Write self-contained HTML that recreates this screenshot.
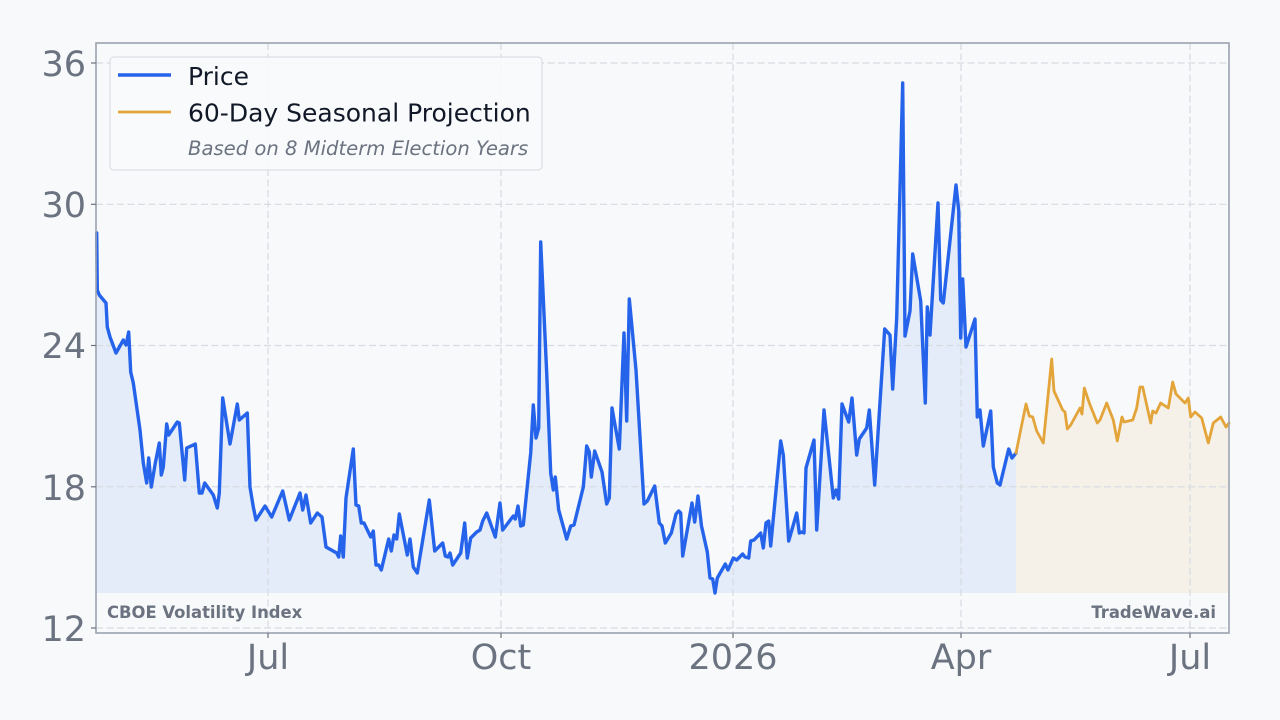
<!DOCTYPE html>
<html><head><meta charset="utf-8"><style>
html,body{margin:0;padding:0;background:#f8f9fb;}
svg{display:block;}
text{font-family:"DejaVu Sans","Liberation Sans",sans-serif;}
</style></head><body>
<svg width="1280" height="720" viewBox="0 0 1280 720" xmlns="http://www.w3.org/2000/svg">
<rect x="0" y="0" width="1280" height="720" fill="#f8f9fb"/>
<rect x="96" y="43" width="1133" height="590" fill="#f8f9fb"/>
<!-- fills -->
<polygon fill="#e3ecf8" points="96,593 96.7,233 97.3,290 99.3,295 106,303 107.3,327 110,337 116,353 123.3,340 126,345 128.7,332 130.7,372 133.3,383 140,430 143.3,463 146.7,483 148.7,458 151.3,487 155.3,463 159.3,443 161.3,475 163.3,467 166.7,424 168.7,435 177.3,422 179.3,423 184.7,480 186.7,448 195.3,444 199.3,493 202,493 204.7,483 213.3,495 217.3,508 219.3,493 222.7,398 230,444 237.3,404 239.3,420 247.3,413 250,487 253.3,507 256,520 265,506 271.7,517 282.7,491 289.3,520 300,493 302.7,510 306,495 310.7,523 317.3,513 322,517 326,547 336.7,553 338.7,557 340.7,536 343.3,557 346,498 353.3,449 356,505 358.7,506 361.3,523 364,523 370.7,537 373.3,531 376,565 378.7,565 381.3,570 388.7,539 391.3,551 394,535 396.7,539 399.3,514 407.3,555 410,539 413.3,567 417.3,573 429.3,500 434.7,551 442.7,543 445.3,556 448,557 450,553 452.7,565 460.7,553 464.7,523 467.3,558 470.7,538 476.7,532 480,530 482.7,521 486.7,513 495.3,537 500,503 502.7,530 513.3,516 515.3,519 518,506 520.7,526 523.3,525 530.7,453 533.3,405 536,438 538.7,428 540.7,242 546.7,373 550.7,473 553.3,490 555.3,477 558.7,510 566.7,539 570.7,526 574,525 583.3,487 586.7,446 589.3,452 591.3,477 594.7,451 602,472 606.7,504 609.3,498 612,408 619.3,449 624,333 626.7,421 629.3,299 636,370 644,504 647.3,501 654.7,486 659.3,523 662,526 665.3,543 671.3,533 676,514 678.7,511 680.7,513 682.7,556 692,503 694.7,522 698,496 701.5,526 707.3,552 710,578 712.7,579 715,593 717.3,578 725.3,564 728,570 733.3,558 736.7,560 742.7,554 745,557 748.7,558 750.7,541 754,540 760.7,533 763.3,548 766,523 768.7,521 770.7,546 780.7,441 783.3,455 788.7,541 796.7,513 799.3,533 801.7,532 804,533 806,468 814,440 816.7,530 824,410 833.3,498 836,490 838.7,499 842,404 848.7,422 852,398 856.7,455 859.3,439 866.7,428 869.3,410 874.7,485 884.7,329 890,335 892.7,389 896.7,318 902.7,83 905,336 910,311 912.7,254 920.7,301 925.3,403 927.3,307 930,335 938,203 940.7,300 943.3,303 956,185 958.7,210 960.7,338 962.7,279 966,347 975,319 977.3,417 980,410 983.3,446 990.7,411 993.3,467 997.3,483 1000,485 1008.7,449 1012,458 1016,453 1016,593"/>
<polygon fill="#f5f0e8" points="1016,593 1016,453 1026,404 1029.3,416 1032.7,417 1036.7,431 1043.3,443 1051.7,359 1054,391 1062.7,410 1065,412 1067.3,429 1070.7,425 1080,408 1082,414 1084.3,388 1089.3,403 1097.3,423 1100,420 1106.7,403 1113.3,420 1117.3,441 1122,417 1124,422 1132.7,420 1136.7,408 1140,387 1142.7,387 1150.7,423 1152.7,411 1156,413 1160.7,403 1168.3,408 1172.7,382 1176,394 1185,403 1188.3,398 1190.7,417 1195,412 1201.7,418 1208.3,443 1213.3,423 1220.7,417 1226,427 1229,423 1229,593"/>
<!-- grid -->
<g stroke="#d6dae1" stroke-width="1.2" stroke-dasharray="7,3.5" fill="none">
<line x1="96" y1="63" x2="1229" y2="63"/>
<line x1="96" y1="204.3" x2="1229" y2="204.3"/>
<line x1="96" y1="345.5" x2="1229" y2="345.5"/>
<line x1="96" y1="486.8" x2="1229" y2="486.8"/>
<line x1="96" y1="628" x2="1229" y2="628"/>
<line x1="268" y1="43" x2="268" y2="633"/>
<line x1="501" y1="43" x2="501" y2="633"/>
<line x1="733" y1="43" x2="733" y2="633"/>
<line x1="961" y1="43" x2="961" y2="633"/>
<line x1="1190" y1="43" x2="1190" y2="633"/>
</g>
<!-- lines -->
<polyline fill="none" stroke="#2563eb" stroke-width="3.4" stroke-linejoin="round" stroke-linecap="round" points="96.7,233 97.3,290 99.3,295 106,303 107.3,327 110,337 116,353 123.3,340 126,345 128.7,332 130.7,372 133.3,383 140,430 143.3,463 146.7,483 148.7,458 151.3,487 155.3,463 159.3,443 161.3,475 163.3,467 166.7,424 168.7,435 177.3,422 179.3,423 184.7,480 186.7,448 195.3,444 199.3,493 202,493 204.7,483 213.3,495 217.3,508 219.3,493 222.7,398 230,444 237.3,404 239.3,420 247.3,413 250,487 253.3,507 256,520 265,506 271.7,517 282.7,491 289.3,520 300,493 302.7,510 306,495 310.7,523 317.3,513 322,517 326,547 336.7,553 338.7,557 340.7,536 343.3,557 346,498 353.3,449 356,505 358.7,506 361.3,523 364,523 370.7,537 373.3,531 376,565 378.7,565 381.3,570 388.7,539 391.3,551 394,535 396.7,539 399.3,514 407.3,555 410,539 413.3,567 417.3,573 429.3,500 434.7,551 442.7,543 445.3,556 448,557 450,553 452.7,565 460.7,553 464.7,523 467.3,558 470.7,538 476.7,532 480,530 482.7,521 486.7,513 495.3,537 500,503 502.7,530 513.3,516 515.3,519 518,506 520.7,526 523.3,525 530.7,453 533.3,405 536,438 538.7,428 540.7,242 546.7,373 550.7,473 553.3,490 555.3,477 558.7,510 566.7,539 570.7,526 574,525 583.3,487 586.7,446 589.3,452 591.3,477 594.7,451 602,472 606.7,504 609.3,498 612,408 619.3,449 624,333 626.7,421 629.3,299 636,370 644,504 647.3,501 654.7,486 659.3,523 662,526 665.3,543 671.3,533 676,514 678.7,511 680.7,513 682.7,556 692,503 694.7,522 698,496 701.5,526 707.3,552 710,578 712.7,579 715,593 717.3,578 725.3,564 728,570 733.3,558 736.7,560 742.7,554 745,557 748.7,558 750.7,541 754,540 760.7,533 763.3,548 766,523 768.7,521 770.7,546 780.7,441 783.3,455 788.7,541 796.7,513 799.3,533 801.7,532 804,533 806,468 814,440 816.7,530 824,410 833.3,498 836,490 838.7,499 842,404 848.7,422 852,398 856.7,455 859.3,439 866.7,428 869.3,410 874.7,485 884.7,329 890,335 892.7,389 896.7,318 902.7,83 905,336 910,311 912.7,254 920.7,301 925.3,403 927.3,307 930,335 938,203 940.7,300 943.3,303 956,185 958.7,210 960.7,338 962.7,279 966,347 975,319 977.3,417 980,410 983.3,446 990.7,411 993.3,467 997.3,483 1000,485 1008.7,449 1012,458 1016,453"/>
<polyline fill="none" stroke="#e3a43a" stroke-width="2.8" stroke-linejoin="round" stroke-linecap="round" points="1016,453 1026,404 1029.3,416 1032.7,417 1036.7,431 1043.3,443 1051.7,359 1054,391 1062.7,410 1065,412 1067.3,429 1070.7,425 1080,408 1082,414 1084.3,388 1089.3,403 1097.3,423 1100,420 1106.7,403 1113.3,420 1117.3,441 1122,417 1124,422 1132.7,420 1136.7,408 1140,387 1142.7,387 1150.7,423 1152.7,411 1156,413 1160.7,403 1168.3,408 1172.7,382 1176,394 1185,403 1188.3,398 1190.7,417 1195,412 1201.7,418 1208.3,443 1213.3,423 1220.7,417 1226,427 1229,423"/>
<!-- frame -->
<rect x="96" y="43" width="1133" height="590" fill="none" stroke="#9ca3af" stroke-width="1.6"/>
<!-- ticks -->
<g stroke="#6b7280" stroke-width="1.2">
<line x1="91" y1="63" x2="96" y2="63"/>
<line x1="91" y1="204.3" x2="96" y2="204.3"/>
<line x1="91" y1="345.5" x2="96" y2="345.5"/>
<line x1="91" y1="486.8" x2="96" y2="486.8"/>
<line x1="91" y1="628" x2="96" y2="628"/>
<line x1="268" y1="633" x2="268" y2="638"/>
<line x1="501" y1="633" x2="501" y2="638"/>
<line x1="733" y1="633" x2="733" y2="638"/>
<line x1="961" y1="633" x2="961" y2="638"/>
<line x1="1190" y1="633" x2="1190" y2="638"/>
</g>
<g fill="#6b7280" font-size="35" text-anchor="end">
<text x="86" y="76">36</text>
<text x="86" y="217">30</text>
<text x="86" y="358">24</text>
<text x="86" y="500">18</text>
<text x="86" y="641">12</text>
</g>
<g fill="#6b7280" font-size="35" text-anchor="middle">
<text x="268" y="669">Jul</text>
<text x="501" y="669">Oct</text>
<text x="733" y="669">2026</text>
<text x="961" y="669">Apr</text>
<text x="1190" y="669">Jul</text>
</g>
<!-- watermark labels -->
<text x="107" y="618" font-size="16.4" font-weight="bold" fill="#6b7280">CBOE Volatility Index</text>
<text x="1216" y="618" font-size="16.4" font-weight="bold" fill="#6b7280" text-anchor="end">TradeWave.ai</text>
<!-- legend -->
<rect x="110" y="57" width="432" height="113" rx="4" ry="4" fill="#f8f9fb" fill-opacity="0.9" stroke="#d5d9df" stroke-width="1"/>
<line x1="118" y1="75" x2="171" y2="75" stroke="#2563eb" stroke-width="3.4"/>
<line x1="118" y1="112" x2="171" y2="112" stroke="#e3a43a" stroke-width="2.8"/>
<text x="188" y="85" font-size="25" fill="#111827">Price</text>
<text x="188" y="121.5" font-size="25" fill="#111827">60-Day Seasonal Projection</text>
<text x="188" y="155" font-size="19.6" font-style="italic" fill="#6b7280">Based on 8 Midterm Election Years</text>
</svg>
</body></html>
